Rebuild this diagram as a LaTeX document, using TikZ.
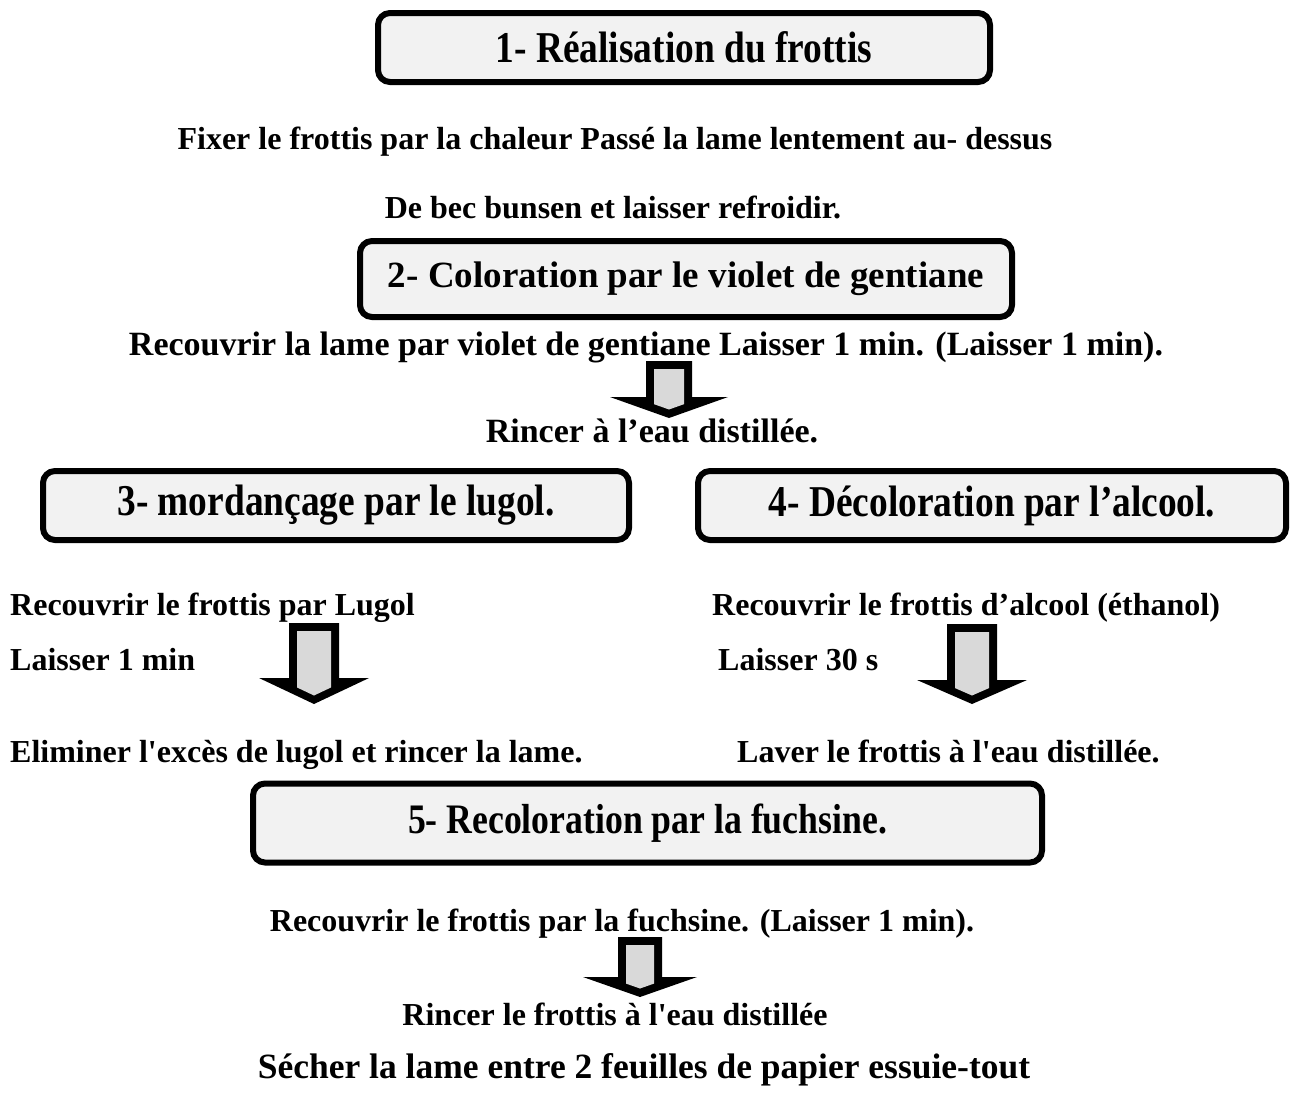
\documentclass[tikz,border=0pt]{standalone}
\usepackage{fontspec}
\setmainfont{Liberation Serif}
\newfontfamily\titrefont[FakeStretch=0.85]{Liberation Serif}
\usepackage{tikz}
\definecolor{fondboite}{HTML}{F2F2F2}
\definecolor{fondfleche}{HTML}{D9D9D9}
% block arrow: x centre, y top, y head, y tip, half shaft, half head
\newcommand{\fleche}[6]{%
	\fill[black] (#1-#5,#2) -- (#1+#5,#2) -- (#1+#5,#3) -- (#1+#6,#3)
		-- (#1,#4) -- (#1-#6,#3) -- (#1-#5,#3) -- cycle;
	\fill[fondfleche] (#1-#5+8,#2+8) -- (#1+#5-8,#2+8)
		-- (#1+#5-8,{#4-8.5-(#5-8)*(#4-#3)/#6}) -- (#1,#4-8.5)
		-- (#1-#5+8,{#4-8.5-(#5-8)*(#4-#3)/#6}) -- cycle;
}

\begin{document}
\begin{tikzpicture}[x=1pt,y=-1pt,
	etape/.style={draw, line width=6pt, rounded corners=12pt, fill=fondboite,
		inner sep=0pt, font=\titrefont\bfseries\fontsize{44}{50}\selectfont},
	texte/.style={inner sep=0pt, anchor=base, font=\bfseries\fontsize{32}{38}\selectfont}]
	\useasboundingbox (0,0) rectangle (1301,1104);
	%% step 1
	\node[etape, minimum width=612pt, minimum height=69pt] (real) at (684,47.5) {1- Réalisation du frottis};
	\node[texte] (fix) at (615,149) {Fixer le frottis par la chaleur Passé la lame lentement au- dessus};
	\node[texte] (bec) at (613,218) {De bec bunsen et laisser refroidir.};
	%% step 2
	\node[etape, minimum width=652pt, minimum height=76pt, font=\bfseries\fontsize{37}{44}\selectfont] (color) at (686,279) {2- Coloration par le violet de gentiane};
	\node[texte, font=\bfseries\fontsize{34}{40}\selectfont] (recviol) at (646,355) {Recouvrir la lame par violet de gentiane Laisser 1 min. (Laisser 1 min).};
	\fleche{669}{361}{397}{418}{23}{59}
	\node[texte, font=\bfseries\fontsize{34}{40}\selectfont] (rincviol) at (652,442) {Rincer à l’eau distillée.};
	%% steps 3 and 4
	\node[etape, minimum width=586pt, minimum height=69pt] (mord) at (336,505.5) {3- mordançage par le lugol.};
	\node[etape, minimum width=588pt, minimum height=69pt] (decol) at (992,505.5) {4- Décoloration par l’alcool.};
	\node[texte, anchor=base west] (reclug) at (10,615) {Recouvrir le frottis par Lugol};
	\node[texte, anchor=base west] (laislug) at (10,670) {Laisser 1 min};
	\fleche{314}{623}{678}{704}{25}{55}
	\node[texte, anchor=base west] (recalc) at (712,615) {Recouvrir le frottis d’alcool (éthanol)};
	\node[texte, anchor=base west] (laisalc) at (718,670) {Laisser 30 s};
	\fleche{972}{624}{680}{704}{25}{55}
	\node[texte, anchor=base west] (elim) at (10,762) {Eliminer l\textquotesingle excès de lugol et rincer la lame.};
	\node[texte, anchor=base west] (laver) at (737,762) {Laver le frottis à l\textquotesingle eau distillée.};
	%% step 5
	\node[etape, minimum width=789pt, minimum height=79pt, font=\titrefont\bfseries\fontsize{42}{50}\selectfont] (recol) at (647.5,823) {5- Recoloration par la fuchsine.};
	\node[texte] (recfuch) at (622,931) {Recouvrir le frottis par la fuchsine. (Laisser 1 min).};
	\fleche{640}{937}{977}{997}{22}{57}
	\node[texte] (rincfuch) at (615,1025) {Rincer le frottis à l\textquotesingle eau distillée};
	\node[texte, font=\bfseries\fontsize{35.5}{42}\selectfont] (secher) at (644,1078) {Sécher la lame entre 2 feuilles de papier essuie-tout};
\end{tikzpicture}
\end{document}
